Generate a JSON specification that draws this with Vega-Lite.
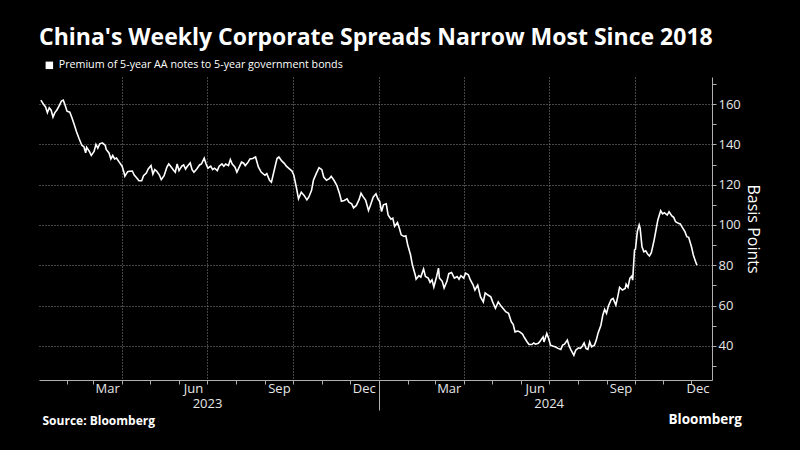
{
  "$schema": "https://vega.github.io/schema/vega-lite/v6.json",
  "width": 673,
  "height": 303,
  "autosize": {"type": "none"},
  "padding": {"left": 39, "top": 77, "right": 88, "bottom": 70},
  "background": "#000000",
  "title": {
    "text": "China's Weekly Corporate Spreads Narrow Most Since 2018",
    "anchor": "start",
    "frame": "group",
    "color": "#ffffff",
    "font": "Open Sans",
    "fontSize": 23,
    "fontWeight": "bold",
    "offset": 10
  },
  "data": {
    "values": [
      {"date": "2023-01-04", "bp": 162}, {"date": "2023-01-07", "bp": 159.8}, {"date": "2023-01-09", "bp": 158.6}, {"date": "2023-01-11", "bp": 155.8},
      {"date": "2023-01-13", "bp": 158.2}, {"date": "2023-01-15", "bp": 157}, {"date": "2023-01-17", "bp": 153.6}, {"date": "2023-01-19", "bp": 155.8},
      {"date": "2023-01-21", "bp": 157}, {"date": "2023-01-24", "bp": 159.5}, {"date": "2023-01-26", "bp": 161.5}, {"date": "2023-01-28", "bp": 162},
      {"date": "2023-01-30", "bp": 159.5}, {"date": "2023-02-01", "bp": 156.5}, {"date": "2023-02-04", "bp": 156}, {"date": "2023-02-06", "bp": 153.6},
      {"date": "2023-02-09", "bp": 149.5}, {"date": "2023-02-11", "bp": 146.5}, {"date": "2023-02-14", "bp": 142.8}, {"date": "2023-02-17", "bp": 139.5},
      {"date": "2023-02-19", "bp": 139}, {"date": "2023-02-21", "bp": 135.8}, {"date": "2023-02-22", "bp": 138.6}, {"date": "2023-02-25", "bp": 136.5},
      {"date": "2023-02-27", "bp": 134.5}, {"date": "2023-03-02", "bp": 136.5}, {"date": "2023-03-04", "bp": 140}, {"date": "2023-03-06", "bp": 138.2},
      {"date": "2023-03-08", "bp": 140.3}, {"date": "2023-03-11", "bp": 140.8}, {"date": "2023-03-14", "bp": 139.5}, {"date": "2023-03-15", "bp": 137.5},
      {"date": "2023-03-18", "bp": 135.8}, {"date": "2023-03-20", "bp": 132.8}, {"date": "2023-03-22", "bp": 134.5}, {"date": "2023-03-24", "bp": 132.8},
      {"date": "2023-03-26", "bp": 133.3}, {"date": "2023-03-29", "bp": 131.2}, {"date": "2023-04-01", "bp": 129.2}, {"date": "2023-04-03", "bp": 126.2},
      {"date": "2023-04-04", "bp": 124.2}, {"date": "2023-04-07", "bp": 126.5}, {"date": "2023-04-09", "bp": 126.7}, {"date": "2023-04-12", "bp": 126.8},
      {"date": "2023-04-14", "bp": 124.8}, {"date": "2023-04-17", "bp": 123.2}, {"date": "2023-04-19", "bp": 122}, {"date": "2023-04-22", "bp": 122},
      {"date": "2023-04-24", "bp": 124.5}, {"date": "2023-04-27", "bp": 125.8}, {"date": "2023-04-29", "bp": 127.8}, {"date": "2023-05-02", "bp": 129.5},
      {"date": "2023-05-04", "bp": 125.3}, {"date": "2023-05-06", "bp": 127.5}, {"date": "2023-05-08", "bp": 126.8}, {"date": "2023-05-11", "bp": 124.8},
      {"date": "2023-05-13", "bp": 122.5}, {"date": "2023-05-16", "bp": 124.5}, {"date": "2023-05-19", "bp": 128.7}, {"date": "2023-05-21", "bp": 130.3},
      {"date": "2023-05-23", "bp": 129.2}, {"date": "2023-05-26", "bp": 127.3}, {"date": "2023-05-28", "bp": 126.2}, {"date": "2023-05-30", "bp": 130.3},
      {"date": "2023-06-01", "bp": 127}, {"date": "2023-06-04", "bp": 129.2}, {"date": "2023-06-06", "bp": 129.8}, {"date": "2023-06-08", "bp": 127.8},
      {"date": "2023-06-10", "bp": 129.2}, {"date": "2023-06-13", "bp": 130.8}, {"date": "2023-06-15", "bp": 127.5}, {"date": "2023-06-17", "bp": 126.2},
      {"date": "2023-06-20", "bp": 127.8}, {"date": "2023-06-23", "bp": 129.8}, {"date": "2023-06-25", "bp": 130.3}, {"date": "2023-06-28", "bp": 133.2},
      {"date": "2023-06-30", "bp": 130.3}, {"date": "2023-07-02", "bp": 128.2}, {"date": "2023-07-05", "bp": 129.2}, {"date": "2023-07-07", "bp": 127.5},
      {"date": "2023-07-09", "bp": 128.2}, {"date": "2023-07-12", "bp": 127}, {"date": "2023-07-14", "bp": 129.2}, {"date": "2023-07-17", "bp": 130.3},
      {"date": "2023-07-19", "bp": 129.2}, {"date": "2023-07-21", "bp": 130.3}, {"date": "2023-07-24", "bp": 129.5}, {"date": "2023-07-26", "bp": 132.5},
      {"date": "2023-07-28", "bp": 130.3}, {"date": "2023-07-31", "bp": 128.7}, {"date": "2023-08-02", "bp": 126.2}, {"date": "2023-08-04", "bp": 128.2},
      {"date": "2023-08-07", "bp": 131.2}, {"date": "2023-08-09", "bp": 130.8}, {"date": "2023-08-11", "bp": 129.5}, {"date": "2023-08-14", "bp": 131.2},
      {"date": "2023-08-16", "bp": 132.8}, {"date": "2023-08-19", "bp": 133}, {"date": "2023-08-22", "bp": 133.8}, {"date": "2023-08-25", "bp": 128.8},
      {"date": "2023-08-28", "bp": 126.3}, {"date": "2023-09-01", "bp": 124.7}, {"date": "2023-09-03", "bp": 125.5}, {"date": "2023-09-06", "bp": 122.2},
      {"date": "2023-09-08", "bp": 121.3}, {"date": "2023-09-11", "bp": 127.2}, {"date": "2023-09-14", "bp": 133}, {"date": "2023-09-16", "bp": 133.8},
      {"date": "2023-09-19", "bp": 131.8}, {"date": "2023-09-22", "bp": 130.5}, {"date": "2023-09-24", "bp": 129.2}, {"date": "2023-09-27", "bp": 128},
      {"date": "2023-09-30", "bp": 126.8}, {"date": "2023-10-02", "bp": 124.7}, {"date": "2023-10-05", "bp": 118}, {"date": "2023-10-07", "bp": 113},
      {"date": "2023-10-10", "bp": 116.3}, {"date": "2023-10-13", "bp": 114.7}, {"date": "2023-10-16", "bp": 112.5}, {"date": "2023-10-18", "bp": 113.8},
      {"date": "2023-10-21", "bp": 117.2}, {"date": "2023-10-23", "bp": 122.2}, {"date": "2023-10-26", "bp": 125.5}, {"date": "2023-10-29", "bp": 128.5},
      {"date": "2023-11-01", "bp": 127.5}, {"date": "2023-11-03", "bp": 123.8}, {"date": "2023-11-06", "bp": 122.2}, {"date": "2023-11-09", "bp": 123},
      {"date": "2023-11-11", "bp": 124.2}, {"date": "2023-11-14", "bp": 122.2}, {"date": "2023-11-17", "bp": 119.7}, {"date": "2023-11-20", "bp": 115.5},
      {"date": "2023-11-22", "bp": 111.8}, {"date": "2023-11-25", "bp": 112.2}, {"date": "2023-11-28", "bp": 113}, {"date": "2023-11-30", "bp": 111.3},
      {"date": "2023-12-03", "bp": 110.5}, {"date": "2023-12-05", "bp": 108.5}, {"date": "2023-12-08", "bp": 109.7}, {"date": "2023-12-11", "bp": 112.7},
      {"date": "2023-12-13", "bp": 115.8}, {"date": "2023-12-15", "bp": 114.2}, {"date": "2023-12-18", "bp": 112.2}, {"date": "2023-12-21", "bp": 107.2},
      {"date": "2023-12-23", "bp": 109.7}, {"date": "2023-12-26", "bp": 113.8}, {"date": "2023-12-29", "bp": 115.5}, {"date": "2023-12-31", "bp": 113},
      {"date": "2024-01-02", "bp": 111.7}, {"date": "2024-01-04", "bp": 106.7}, {"date": "2024-01-06", "bp": 110}, {"date": "2024-01-09", "bp": 110.5},
      {"date": "2024-01-11", "bp": 105}, {"date": "2024-01-14", "bp": 102.9}, {"date": "2024-01-16", "bp": 103.4}, {"date": "2024-01-18", "bp": 99.3},
      {"date": "2024-01-21", "bp": 101.2}, {"date": "2024-01-23", "bp": 98.5}, {"date": "2024-01-25", "bp": 95.1}, {"date": "2024-01-28", "bp": 94.3},
      {"date": "2024-01-30", "bp": 94.6}, {"date": "2024-02-01", "bp": 90.2}, {"date": "2024-02-04", "bp": 85.2}, {"date": "2024-02-06", "bp": 80.2},
      {"date": "2024-02-09", "bp": 75.3}, {"date": "2024-02-10", "bp": 73.1}, {"date": "2024-02-13", "bp": 74.8}, {"date": "2024-02-15", "bp": 74.1},
      {"date": "2024-02-18", "bp": 78.1}, {"date": "2024-02-20", "bp": 74.4}, {"date": "2024-02-23", "bp": 73.6}, {"date": "2024-02-25", "bp": 71.5},
      {"date": "2024-02-27", "bp": 72.8}, {"date": "2024-02-29", "bp": 69.2}, {"date": "2024-03-03", "bp": 74.4}, {"date": "2024-03-05", "bp": 78.6},
      {"date": "2024-03-06", "bp": 73.6}, {"date": "2024-03-09", "bp": 72}, {"date": "2024-03-11", "bp": 68.7}, {"date": "2024-03-14", "bp": 72},
      {"date": "2024-03-16", "bp": 75.8}, {"date": "2024-03-19", "bp": 76.4}, {"date": "2024-03-22", "bp": 73.6}, {"date": "2024-03-25", "bp": 74.4},
      {"date": "2024-03-27", "bp": 73.1}, {"date": "2024-03-29", "bp": 74.8}, {"date": "2024-04-01", "bp": 73.6}, {"date": "2024-04-03", "bp": 76.1},
      {"date": "2024-04-06", "bp": 75.3}, {"date": "2024-04-08", "bp": 72.8}, {"date": "2024-04-11", "bp": 70.3}, {"date": "2024-04-13", "bp": 67.7},
      {"date": "2024-04-16", "bp": 70.1}, {"date": "2024-04-19", "bp": 64.3}, {"date": "2024-04-22", "bp": 61.8}, {"date": "2024-04-24", "bp": 66.3},
      {"date": "2024-04-27", "bp": 65.2}, {"date": "2024-04-30", "bp": 64.3}, {"date": "2024-05-02", "bp": 61.8}, {"date": "2024-05-05", "bp": 58.6},
      {"date": "2024-05-08", "bp": 61.8}, {"date": "2024-05-11", "bp": 59.7}, {"date": "2024-05-13", "bp": 58.6}, {"date": "2024-05-16", "bp": 56.9},
      {"date": "2024-05-19", "bp": 56.1}, {"date": "2024-05-22", "bp": 51.9}, {"date": "2024-05-24", "bp": 50.7}, {"date": "2024-05-26", "bp": 46.9},
      {"date": "2024-05-29", "bp": 47.3}, {"date": "2024-05-31", "bp": 46.9}, {"date": "2024-06-03", "bp": 45.8}, {"date": "2024-06-05", "bp": 44.1},
      {"date": "2024-06-08", "bp": 41.9}, {"date": "2024-06-10", "bp": 40.6}, {"date": "2024-06-13", "bp": 40.6}, {"date": "2024-06-15", "bp": 41.4},
      {"date": "2024-06-17", "bp": 40.8}, {"date": "2024-06-20", "bp": 41.2}, {"date": "2024-06-22", "bp": 42.4}, {"date": "2024-06-25", "bp": 44.4},
      {"date": "2024-06-26", "bp": 41.9}, {"date": "2024-06-29", "bp": 46.1}, {"date": "2024-07-01", "bp": 43.6}, {"date": "2024-07-03", "bp": 40.3},
      {"date": "2024-07-06", "bp": 39.8}, {"date": "2024-07-08", "bp": 39.5}, {"date": "2024-07-11", "bp": 38.7}, {"date": "2024-07-14", "bp": 38.2},
      {"date": "2024-07-16", "bp": 40.3}, {"date": "2024-07-18", "bp": 40.8}, {"date": "2024-07-21", "bp": 42.8}, {"date": "2024-07-23", "bp": 39.8},
      {"date": "2024-07-25", "bp": 37.8}, {"date": "2024-07-28", "bp": 35.3}, {"date": "2024-07-30", "bp": 37.8}, {"date": "2024-08-02", "bp": 39},
      {"date": "2024-08-04", "bp": 38.7}, {"date": "2024-08-06", "bp": 39.8}, {"date": "2024-08-08", "bp": 41.4}, {"date": "2024-08-10", "bp": 38.7},
      {"date": "2024-08-12", "bp": 38.2}, {"date": "2024-08-14", "bp": 41.9}, {"date": "2024-08-16", "bp": 39.5}, {"date": "2024-08-19", "bp": 40.3},
      {"date": "2024-08-21", "bp": 42.8}, {"date": "2024-08-23", "bp": 46.4}, {"date": "2024-08-26", "bp": 50.2}, {"date": "2024-08-28", "bp": 55.2},
      {"date": "2024-08-30", "bp": 58.1}, {"date": "2024-09-01", "bp": 56.1}, {"date": "2024-09-03", "bp": 59.7}, {"date": "2024-09-06", "bp": 63},
      {"date": "2024-09-08", "bp": 63.5}, {"date": "2024-09-11", "bp": 60.2}, {"date": "2024-09-13", "bp": 64.3}, {"date": "2024-09-15", "bp": 69},
      {"date": "2024-09-18", "bp": 67.7}, {"date": "2024-09-21", "bp": 68.5}, {"date": "2024-09-22", "bp": 70.6}, {"date": "2024-09-24", "bp": 69},
      {"date": "2024-09-26", "bp": 73.5}, {"date": "2024-09-28", "bp": 74.6}, {"date": "2024-09-29", "bp": 72.6}, {"date": "2024-10-01", "bp": 87.6},
      {"date": "2024-10-02", "bp": 87.9}, {"date": "2024-10-04", "bp": 96.7}, {"date": "2024-10-06", "bp": 100}, {"date": "2024-10-07", "bp": 98.4},
      {"date": "2024-10-09", "bp": 89.2}, {"date": "2024-10-11", "bp": 86.7}, {"date": "2024-10-13", "bp": 87.2}, {"date": "2024-10-15", "bp": 85.6},
      {"date": "2024-10-17", "bp": 84.6}, {"date": "2024-10-19", "bp": 86.2}, {"date": "2024-10-22", "bp": 92.5}, {"date": "2024-10-24", "bp": 97.5},
      {"date": "2024-10-26", "bp": 102.5}, {"date": "2024-10-29", "bp": 107.1}, {"date": "2024-10-31", "bp": 105.5}, {"date": "2024-11-02", "bp": 106.1},
      {"date": "2024-11-05", "bp": 104.9}, {"date": "2024-11-07", "bp": 106.6}, {"date": "2024-11-10", "bp": 104.5}, {"date": "2024-11-12", "bp": 103.8},
      {"date": "2024-11-14", "bp": 101.6}, {"date": "2024-11-17", "bp": 100.8}, {"date": "2024-11-19", "bp": 100.5}, {"date": "2024-11-21", "bp": 98.9},
      {"date": "2024-11-24", "bp": 96.7}, {"date": "2024-11-26", "bp": 94.2}, {"date": "2024-11-28", "bp": 93.9}, {"date": "2024-12-01", "bp": 89.2},
      {"date": "2024-12-03", "bp": 85.1}, {"date": "2024-12-06", "bp": 81}, {"date": "2024-12-07", "bp": 80.1}
    ]
  },
  "layer": [
    {
      "mark": {"type": "line", "strokeWidth": 1.6, "interpolate": "linear"},
      "encoding": {
        "x": {
          "field": "date",
          "type": "temporal",
          "scale": {"domain": [{"year": 2023, "month": 1, "date": 2}, {"year": 2024, "month": 12, "date": 23}]},
          "axis": {
            "orient": "bottom",
            "title": "Bloomberg",
            "titleX": 629,
            "titleY": 43,
            "titleAlign": "left",
            "titleBaseline": "alphabetic",
            "titleAngle": 0,
            "titleFont": "Open Sans",
            "titleFontSize": 13.5,
            "titleFontWeight": "bold",
            "titleColor": "#ffffff",
            "tickCount": {"interval": "month", "step": 1},
            "labelExpr": "indexof([2,5,8,11], month(datum.value)) >= 0 ? timeFormat(datum.value, '%b') : ''",
            "labelOffset": {"condition": {"test": "year(datum.value) == 2024 && month(datum.value) == 11", "value": 6}, "value": 14},
            "labelOverlap": false,
            "labelFlush": false,
            "labelPadding": -2,
            "grid": true,
            "gridColor": "#8a8a8a",
            "gridDash": [1, 2],
            "gridOpacity": {"condition": {"test": "month(datum.value) % 3 == 0", "value": 1}, "value": 0},
            "tickSize": {"condition": {"test": "month(datum.value) == 0", "value": 30}, "value": 4},
            "tickColor": "#b0b0b0",
            "domainColor": "#b0b0b0"
          }
        },
        "y": {
          "field": "bp",
          "type": "quantitative",
          "scale": {"domain": [23, 173.5], "nice": false, "zero": false},
          "axis": {
            "orient": "right",
            "title": "Basis Points",
            "titleFont": "Open Sans",
            "titleFontSize": 16,
            "titleFontWeight": "normal",
            "titleColor": "#ffffff",
            "titlePadding": 4,
            "values": [30, 40, 50, 60, 70, 80, 90, 100, 110, 120, 130, 140, 150, 160, 170],
            "labelExpr": "datum.value % 20 == 0 ? datum.label : ''",
            "labelOverlap": false,
            "grid": true,
            "gridColor": "#8a8a8a",
            "gridDash": [1, 2],
            "gridOpacity": {"condition": {"test": "datum.value % 20 == 0", "value": 1}, "value": 0},
            "tickSize": 4,
            "tickColor": "#b0b0b0",
            "domainColor": "#b0b0b0",
            "labelPadding": 2
          }
        },
        "color": {
          "datum": "Premium of 5-year AA notes to 5-year government bonds",
          "type": "nominal",
          "scale": {"range": ["#ffffff"]},
          "legend": {
            "orient": "none",
            "legendX": 5,
            "legendY": -17,
            "title": null,
            "symbolType": "square",
            "symbolSize": 56,
            "symbolFillColor": "#ffffff",
            "symbolStrokeColor": "#ffffff",
            "symbolStrokeWidth": 0,
            "labelColor": "#ffffff",
            "labelFont": "Open Sans",
            "labelFontSize": 10.7,
            "labelLimit": 600,
            "padding": 0
          }
        }
      }
    },
    {
      "mark": {"type": "rule", "opacity": 0},
      "encoding": {
        "x": {
          "field": "date",
          "type": "temporal",
          "axis": {
            "orient": "bottom",
            "values": [{"year": 2023, "month": 7, "date": 1}, {"year": 2024, "month": 7, "date": 1}],
            "format": "%Y",
            "labelPadding": 17,
            "labelFlush": false,
            "ticks": false,
            "domain": false,
            "grid": false,
            "title": "Source: Bloomberg",
            "titleX": 3,
            "titleY": 44,
            "titleAlign": "left",
            "titleBaseline": "alphabetic",
            "titleAngle": 0,
            "titleFont": "Open Sans",
            "titleFontSize": 12,
            "titleFontWeight": "bold",
            "titleColor": "#ffffff"
          }
        }
      }
    }
  ],
  "resolve": {"axis": {"x": "independent"}},
  "config": {
    "view": {"stroke": null},
    "axis": {"labelFont": "Open Sans", "labelFontSize": 13, "labelColor": "#e6e6e6"}
  }
}
